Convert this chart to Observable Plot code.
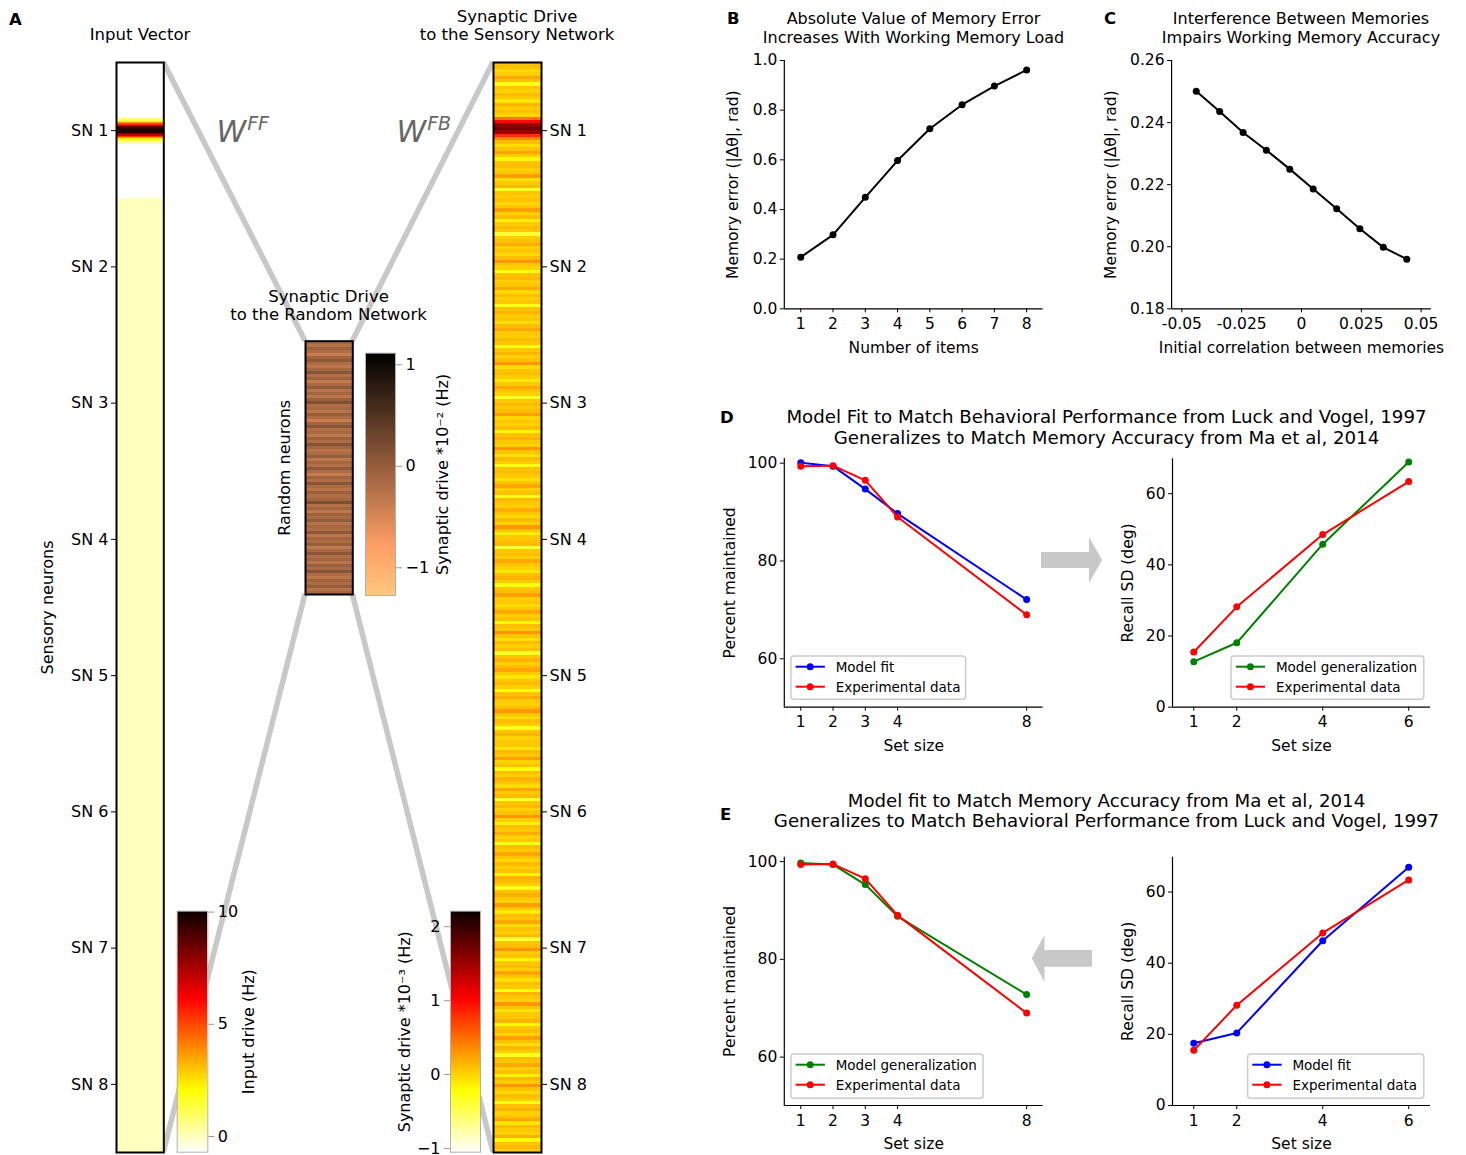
<!DOCTYPE html>
<html><head><meta charset="utf-8">
<script src="https://cdn.jsdelivr.net/npm/d3@7"></script>
<script src="https://cdn.jsdelivr.net/npm/@observablehq/plot@0.6"></script>
<style>
html,body{margin:0;padding:0;background:#fff;}
#fig{position:relative;width:1466px;height:1155px;overflow:hidden;background:#fff;font-family:"DejaVu Sans",sans-serif;}
</style></head><body><div id="fig"></div>
<script>
// ---------------- DATA ----------------
// Panel B
const itemsB = [1, 2, 3, 4, 5, 6, 7, 8];
const errorB = [0.208, 0.298, 0.449, 0.597, 0.725, 0.822, 0.897, 0.962];
// Panel C
const corrC = [-0.044, -0.0342, -0.0244, -0.0147, -0.0049, 0.0049, 0.0147, 0.0244, 0.0342, 0.044];
const errorC = [0.2501, 0.2436, 0.2368, 0.2311, 0.2250, 0.2186, 0.2122, 0.2058, 0.1998, 0.1960];
// Panels D / E (Luck & Vogel percent maintained)
const setSizeLV = [1, 2, 3, 4, 8];
const lvExperimental = [99.4, 99.5, 96.5, 89.0, 69.0];
const lvModelFitD = [100.1, 99.4, 94.7, 89.7, 72.1];
const lvModelGenE = [99.7, 99.4, 95.3, 88.8, 72.8];
// Panels D / E (Ma et al recall SD)
const setSizeMa = [1, 2, 4, 6];
const maExperimental = [15.5, 28.2, 48.5, 63.4];
const maModelGenD = [12.8, 18.1, 45.8, 68.9];
const maModelFitE = [17.5, 20.4, 46.3, 67.0];
// Panel A
const snLabels = ["SN 1", "SN 2", "SN 3", "SN 4", "SN 5", "SN 6", "SN 7", "SN 8"];
const inputBaseline = [-0.7, 0, 0, 0, 0, 0, 0, 0];          // Hz, per sensory network
const inputBumpStart = 0.40;                                  // in sensory-network units
const inputBumpStep = 0.01;
const inputBump = [0.2, 0.6, 1.2, 2.2, 3.6, 5.2, 7.0, 8.4, 9.4, 10, 10, 9.4, 8.4, 7.0, 5.2, 3.6, 2.2, 1.2, 0.6, 0.2];
const sensoryDrive = [ // *1e-3 Hz, 40 rows per sensory network
  [0.05,0.1,-0.05,0.02,0.2,0.08,-0.3,0.06,0.0,0.12,0.04,-0.1,0.15,0.03,0.08,-0.02,0.45,1.0,1.6,1.75,1.5,0.8,0.35,0.1,-0.05,0.06,0.22,0.02,-0.2,0.08,0.1,0.0,0.05,0.25,-0.08,0.04,0.12,-0.35,0.06,0.02],
  [0.08,-0.02,0.05,0.25,0.0,0.1,-0.15,0.04,0.12,0.06,-0.4,0.02,0.08,0.18,0.0,0.06,-0.05,0.1,0.3,0.04,0.0,-0.22,0.08,0.12,0.02,0.06,0.2,-0.04,0.1,0.0,0.05,-0.3,0.08,0.15,0.02,0.06,-0.08,0.1,0.22,0.04],
  [0.02,0.1,0.06,-0.25,0.04,0.14,0.0,0.08,0.28,-0.05,0.06,0.1,0.02,-0.12,0.05,0.2,0.08,0.0,-0.35,0.06,0.12,0.04,0.1,0.25,-0.02,0.06,0.0,0.1,-0.18,0.08,0.15,0.04,0.0,0.3,0.06,-0.06,0.1,0.02,-0.28,0.08],
  [0.1,0.04,-0.08,0.06,0.22,0.0,0.08,-0.3,0.12,0.05,0.02,0.18,0.06,-0.04,0.1,0.0,0.28,0.06,-0.15,0.04,0.08,0.12,-0.42,0.05,0.1,0.02,0.2,0.06,0.0,-0.1,0.08,0.15,0.04,-0.22,0.06,0.1,0.25,0.02,0.05,-0.05],
  [0.06,0.2,0.0,0.08,-0.2,0.1,0.04,0.3,0.06,-0.06,0.12,0.02,0.08,-0.35,0.05,0.15,0.0,0.1,0.22,0.04,-0.1,0.06,0.12,0.02,-0.25,0.08,0.18,0.04,0.0,0.1,0.28,0.06,-0.04,0.1,0.02,-0.3,0.08,0.14,0.0,0.06],
  [0.04,-0.1,0.12,0.06,0.25,0.0,0.08,-0.25,0.1,0.02,0.15,0.06,-0.05,0.2,0.04,0.1,-0.38,0.06,0.12,0.0,0.08,0.3,0.02,-0.15,0.1,0.05,0.18,0.0,0.06,-0.28,0.1,0.04,0.22,0.06,-0.02,0.12,0.0,0.08,-0.2,0.14],
  [0.1,0.02,-0.3,0.08,0.16,0.04,0.0,0.26,0.06,-0.12,0.1,0.04,0.2,-0.05,0.08,0.0,0.12,-0.4,0.06,0.1,0.3,0.02,0.08,-0.18,0.05,0.12,0.0,0.22,0.06,-0.08,0.1,0.04,-0.25,0.15,0.06,0.0,0.28,0.08,-0.1,0.04],
  [0.06,0.14,-0.2,0.04,0.1,0.0,0.25,0.08,-0.06,0.12,0.02,-0.32,0.1,0.06,0.2,0.0,0.08,-0.15,0.12,0.04,0.3,0.06,-0.04,0.1,0.02,-0.28,0.08,0.16,0.0,0.06,0.22,-0.1,0.1,0.04,0.0,0.18,-0.22,0.06,0.12,0.02]
];
const randomDrive = [ // *1e-2 Hz
  -0.15,-0.25,-0.05,-0.2,-0.38,-0.1,0.05,-0.18,-0.3,-0.12,0.1,-0.22,-0.08,-0.35,-0.15,0.02,-0.25,-0.1,-0.3,-0.05,
  0.15,-0.2,-0.12,-0.28,-0.02,-0.18,-0.4,-0.1,0.08,-0.22,-0.15,-0.32,-0.05,-0.2,0.12,-0.1,-0.26,-0.16,0.0,-0.3,
  -0.12,-0.22,0.05,-0.18,-0.36,-0.08,-0.2,0.1,-0.14,-0.28,-0.04,-0.2,-0.12,0.18,-0.24,-0.1,-0.32,-0.06,-0.16,0.02,
  -0.26,-0.12,-0.2,0.06,-0.3,-0.1,-0.18,-0.02,-0.34,-0.14,0.08,-0.22,-0.1,-0.28,-0.04,-0.16,0.12,-0.2,-0.3,-0.08,
  -0.18,0.0,-0.24,-0.12
];
// colour-bar limits
const inputRange = [-0.7, 10.04];
const sensoryRange = [-1.05, 2.21];
const randomRange = [-1.273, 1.114];

// ---------------- HELPERS ----------------
const FONT = '"DejaVu Sans", sans-serif';
const fig = document.getElementById("fig");
function place(node, left, top, z = 1) {
  node.style.position = "absolute"; node.style.left = left + "px"; node.style.top = top + "px";
  node.style.zIndex = z; node.style.margin = "0"; fig.appendChild(node); return node;
}
function hotR([lo, hi]) {
  const s = t => lo + (hi - lo) * t;
  return {type: "linear", domain: [s(0), s(0.254), s(0.635), s(1)], range: ["#ffffff", "#ffff00", "#ff0000", "#0b0000"], interpolate: "rgb", clamp: true};
}
function copperR([lo, hi]) {
  const s = t => lo + (hi - lo) * t;
  return {type: "linear", domain: [s(0), s(0.2), s(1)], range: ["#ffc77f", "#ff9f65", "#000000"], interpolate: "rgb", clamp: true};
}
function ramp([d0, d1], n = 240) {
  return d3.range(n).map(i => ({y0: d0 + (d1 - d0) * i / n, y1: d0 + (d1 - d0) * (i + 1) / n, v: d0 + (d1 - d0) * (i + 0.5) / n}));
}
const minusFmt = d => (d < 0 ? "\u2212" + Math.abs(d) : String(d));
const baseStyle = {fontFamily: FONT, fontSize: "15.5px", color: "#000", background: "transparent", overflow: "visible"};
const stripStyle = {...baseStyle, fontSize: "16px"};
function margins(left, top, width, height, [fx0, fx1, fy0, fy1]) {
  return {width, height, marginLeft: fx0 - left, marginRight: left + width - fx1, marginTop: fy0 - top, marginBottom: top + height - fy1};
}

// ---------------- BACKGROUND (connectors, arrows) ----------------
const IN = {x0: 116, x1: 163.3, y0: 62, y1: 1152};
const RN = {x0: 305, x1: 352.3, y0: 340.7, y1: 594};
const SE = {x0: 493, x1: 541, y0: 62, y1: 1152};
const bg = d3.create("svg").attr("width", 1466).attr("height", 1155);
[[IN.x1, IN.y0, RN.x0, RN.y0], [IN.x1, IN.y1, RN.x0, RN.y1], [RN.x1, RN.y0, SE.x0, SE.y0], [RN.x1, RN.y1, SE.x0, SE.y1]]
  .forEach(([a, b, c, d]) => bg.append("line").attr("x1", a).attr("y1", b).attr("x2", c).attr("y2", d)
    .attr("stroke", "#c8c8c8").attr("stroke-width", 5.5));
bg.append("polygon").attr("fill", "#c8c8c8")
  .attr("points", "1041,552 1089,552 1089,537 1102,560 1089,583 1089,568 1041,568");
bg.append("polygon").attr("fill", "#c8c8c8")
  .attr("points", "1092,950 1044.5,950 1044.5,935 1031.8,958.3 1044.5,982 1044.5,966.7 1092,966.7");
place(bg.node(), 0, 0, 0);

// ---------------- PANEL A: strips ----------------
const snTicks = snLabels.map((_, i) => i + 0.5);
const snFmt = d => snLabels[Math.floor(d)];

const inputRows = inputBaseline.map((v, k) => ({y0: k, y1: k + 1, v}))
  .concat(inputBump.map((v, j) => ({y0: inputBumpStart + j * inputBumpStep, y1: inputBumpStart + (j + 1) * inputBumpStep, v})));
place(Plot.plot({
  ...margins(0, 50, 175, 1110, [IN.x0, IN.x1, IN.y0, IN.y1]),
  style: stripStyle,
  y: {domain: [0, 8], reverse: true},
  color: hotR(inputRange),
  marks: [
    Plot.rect(inputRows, {y1: "y0", y2: "y1", fill: "v", shapeRendering: "crispEdges"}),
    Plot.frame({stroke: "#000", strokeWidth: 2}),
    Plot.axisY({anchor: "left", ticks: snTicks, tickFormat: snFmt, tickSize: 5, tickPadding: 3,
      label: "Sensory neurons", labelAnchor: "center", labelArrow: "none", labelOffset: 75})
  ]
}), 0, 50);

const sensoryRows = sensoryDrive.flatMap((arr, k) => arr.map((v, j) => ({y0: k + j / arr.length, y1: k + (j + 1) / arr.length, v})));
place(Plot.plot({
  ...margins(485, 50, 125, 1110, [SE.x0, SE.x1, SE.y0, SE.y1]),
  style: stripStyle,
  y: {domain: [0, 8], reverse: true},
  color: hotR(sensoryRange),
  marks: [
    Plot.rect(sensoryRows, {y1: "y0", y2: "y1", fill: "v", shapeRendering: "crispEdges"}),
    Plot.frame({stroke: "#000", strokeWidth: 2}),
    Plot.axisY({anchor: "right", ticks: snTicks, tickFormat: snFmt, tickSize: 5, tickPadding: 3, label: null})
  ]
}), 485, 50);

const randomRows = randomDrive.map((v, i) => ({y0: i, y1: i + 1, v}));
place(Plot.plot({
  ...margins(250, 330, 110, 275, [RN.x0, RN.x1, RN.y0, RN.y1]),
  style: stripStyle,
  y: {domain: [0, randomDrive.length], reverse: true},
  color: copperR(randomRange),
  marks: [
    Plot.rect(randomRows, {y1: "y0", y2: "y1", fill: "v", shapeRendering: "crispEdges"}),
    Plot.frame({stroke: "#000", strokeWidth: 2}),
    Plot.axisY({anchor: "left", ticks: [], label: "Random neurons", labelAnchor: "center", labelArrow: "none", labelOffset: 27})
  ]
}), 250, 330);

function colorbar({left, top, width, height, frame, range, color, anchor, ticks, label, labelOffset}) {
  return place(Plot.plot({
    ...margins(left, top, width, height, frame),
    style: stripStyle,
    y: {domain: range},
    color,
    marks: [
      Plot.rect(ramp(range), {y1: "y0", y2: "y1", fill: "v", shapeRendering: "crispEdges"}),
      Plot.frame({stroke: "#b0b0b0", strokeWidth: 1}),
      Plot.axisY({anchor, ticks, tickFormat: minusFmt, tickSize: 6, tickPadding: 4, stroke: "#999",
        label, labelAnchor: "center", labelArrow: "none", labelOffset})
    ]
  }), left, top);
}
colorbar({left: 150, top: 900, width: 130, height: 255, frame: [176.7, 207.3, 910.7, 1151.7],
  range: inputRange, color: hotR(inputRange), anchor: "right", ticks: [0, 5, 10], label: "Input drive (Hz)", labelOffset: 46});
colorbar({left: 340, top: 340, width: 130, height: 265, frame: [365, 395, 352.7, 595],
  range: randomRange, color: copperR(randomRange), anchor: "right", ticks: [-1, 0, 1], label: "Synaptic drive *10\u207B\u00B2 (Hz)", labelOffset: 52});
colorbar({left: 370, top: 900, width: 115, height: 255, frame: [450, 480, 910.7, 1151.7],
  range: sensoryRange, color: hotR(sensoryRange), anchor: "left", ticks: [-1, 0, 1, 2], label: "Synaptic drive *10\u207B\u00B3 (Hz)", labelOffset: 52});

// ---------------- PANELS B–E: line charts ----------------
const pts = (xs, ys) => xs.map((x, i) => ({x, y: ys[i]}));
const intFmt = d => String(d);
function lineChart(o) {
  const marks = [
    Plot.ruleX([o.xDomain[0]], {stroke: "#000", strokeWidth: 1.2}),
    Plot.ruleY([o.yDomain[0]], {stroke: "#000", strokeWidth: 1.2}),
    Plot.axisX({ticks: o.xTicks, tickFormat: o.xFormat || intFmt, tickSize: 4, tickPadding: 5,
      label: o.xLabel, labelAnchor: "center", labelArrow: "none", labelOffset: o.xLabelOffset}),
    Plot.axisY({ticks: o.yTicks, tickFormat: o.yFormat || intFmt, tickSize: 4, tickPadding: 3,
      label: o.yLabel, labelAnchor: "center", labelArrow: "none", labelOffset: o.yLabelOffset})
  ];
  for (const s of o.series) {
    marks.push(Plot.line(s.data, {x: "x", y: "y", stroke: s.color, strokeWidth: 2}));
    marks.push(Plot.dot(s.data, {x: "x", y: "y", fill: s.color, r: 3.5}));
  }
  return place(Plot.plot({
    ...margins(o.left, o.top, o.width, o.height, o.frame),
    style: baseStyle,
    x: {domain: o.xDomain}, y: {domain: o.yDomain},
    marks
  }), o.left, o.top);
}
const BLUE = "#0000ff", RED = "#ff0000", GREEN = "#008000";
lineChart({left: 700, top: 50, width: 360, height: 320, frame: [783.8, 1042.6, 60, 308.3],
  xDomain: [0.49, 8.51], yDomain: [0, 1], xTicks: itemsB, yTicks: [0, 0.2, 0.4, 0.6, 0.8, 1.0], yFormat: d3.format(".1f"),
  xLabel: "Number of items", xLabelOffset: 44, yLabel: "Memory error (|\u0394\u03B8|, rad)", yLabelOffset: 57,
  series: [{data: pts(itemsB, errorB), color: "#000"}]});
lineChart({left: 1090, top: 50, width: 360, height: 320, frame: [1171.1, 1430.9, 60, 308.3],
  xDomain: [-0.0543, 0.0543], yDomain: [0.18, 0.26], xTicks: [-0.05, -0.025, 0, 0.025, 0.05],
  xFormat: d => (d < 0 ? "-" : "") + String(Math.abs(d)), yTicks: [0.18, 0.2, 0.22, 0.24, 0.26], yFormat: d3.format(".2f"),
  xLabel: "Initial correlation between memories", xLabelOffset: 44, yLabel: "Memory error (|\u0394\u03B8|, rad)", yLabelOffset: 67,
  series: [{data: pts(corrC, errorC), color: "#000"}]});
lineChart({left: 700, top: 448, width: 360, height: 320, frame: [783.8, 1042.6, 458, 706.7],
  xDomain: [0.49, 8.51], yDomain: [50.1, 100.96], xTicks: setSizeLV, yTicks: [60, 80, 100],
  xLabel: "Set size", xLabelOffset: 44, yLabel: "Percent maintained", yLabelOffset: 60,
  series: [{data: pts(setSizeLV, lvModelFitD), color: BLUE}, {data: pts(setSizeLV, lvExperimental), color: RED}]});
lineChart({left: 1090, top: 448, width: 360, height: 320, frame: [1172, 1430, 458.3, 706.7],
  xDomain: [0.505, 6.507], yDomain: [0, 69.8], xTicks: setSizeMa, yTicks: [0, 20, 40, 60],
  xLabel: "Set size", xLabelOffset: 44, yLabel: "Recall SD (deg)", yLabelOffset: 51,
  series: [{data: pts(setSizeMa, maModelGenD), color: GREEN}, {data: pts(setSizeMa, maExperimental), color: RED}]});
lineChart({left: 700, top: 846, width: 360, height: 309, frame: [783.8, 1042.6, 856.7, 1105],
  xDomain: [0.49, 8.51], yDomain: [50.1, 100.9], xTicks: setSizeLV, yTicks: [60, 80, 100],
  xLabel: "Set size", xLabelOffset: 43.5, yLabel: "Percent maintained", yLabelOffset: 60,
  series: [{data: pts(setSizeLV, lvModelGenE), color: GREEN}, {data: pts(setSizeLV, lvExperimental), color: RED}]});
lineChart({left: 1090, top: 846, width: 360, height: 309, frame: [1172, 1430, 856.7, 1105],
  xDomain: [0.505, 6.507], yDomain: [0, 69.8], xTicks: setSizeMa, yTicks: [0, 20, 40, 60],
  xLabel: "Set size", xLabelOffset: 43.5, yLabel: "Recall SD (deg)", yLabelOffset: 51,
  series: [{data: pts(setSizeMa, maModelFitE), color: BLUE}, {data: pts(setSizeMa, maExperimental), color: RED}]});

// ---------------- OVERLAY: titles, letters, legends ----------------
const ov = d3.create("svg").attr("width", 1466).attr("height", 1155).style("pointer-events", "none")
  .attr("font-family", FONT);
function txt(x, y, s, {size = 16, anchor = "middle", weight = "normal", fill = "#000"} = {}) {
  return ov.append("text").attr("x", x).attr("y", y).attr("text-anchor", anchor).attr("font-size", size)
    .attr("font-weight", weight).attr("fill", fill).text(s);
}
[["A", 9, 25], ["B", 727, 23.5], ["C", 1104, 23.5], ["D", 720, 422.5], ["E", 720, 820]]
  .forEach(([s, x, y]) => txt(x, y, s, {size: 16.5, anchor: "start", weight: "bold"}));
txt(140, 40, "Input Vector", {size: 16.5});
txt(517, 21.5, "Synaptic Drive", {size: 16.5});
txt(517, 40, "to the Sensory Network", {size: 16.5});
txt(328.5, 301.5, "Synaptic Drive", {size: 16.5});
txt(328.5, 320, "to the Random Network", {size: 16.5});
function wLabel(x, sup) {
  const t = ov.append("text").attr("x", x).attr("y", 141.7).attr("font-size", 30).attr("font-style", "italic").attr("fill", "#666");
  t.append("tspan").text("W");
  t.append("tspan").attr("font-size", 19).attr("dy", -11.8).attr("dx", 1).text(sup);
}
wLabel(216.5, "FF");
wLabel(396.5, "FB");
txt(913.5, 24, "Absolute Value of Memory Error");
txt(913.5, 42.5, "Increases With Working Memory Load");
txt(1301, 24, "Interference Between Memories");
txt(1301, 42.5, "Impairs Working Memory Accuracy");
txt(1106.5, 423, "Model Fit to Match Behavioral Performance from Luck and Vogel, 1997", {size: 18.2});
txt(1106.5, 443.5, "Generalizes to Match Memory Accuracy from Ma et al, 2014", {size: 18.2});
txt(1106.5, 806.5, "Model fit to Match Memory Accuracy from Ma et al, 2014", {size: 18.2});
txt(1106.5, 827, "Generalizes to Match Behavioral Performance from Luck and Vogel, 1997", {size: 18.2});
function legend(x0, x1, y0, y1, entries) {
  ov.append("rect").attr("x", x0).attr("y", y0).attr("width", x1 - x0).attr("height", y1 - y0).attr("rx", 3)
    .attr("fill", "#fff").attr("fill-opacity", 0.85).attr("stroke", "#cccccc").attr("stroke-width", 1.5);
  entries.forEach(([label, color], i) => {
    const y = y0 + 10.7 + i * 20;
    ov.append("line").attr("x1", x0 + 4.7).attr("x2", x0 + 34).attr("y1", y).attr("y2", y).attr("stroke", color).attr("stroke-width", 2);
    ov.append("circle").attr("cx", x0 + 19.3).attr("cy", y).attr("r", 3.5).attr("fill", color);
    txt(x0 + 44.8, y + 5, label, {size: 13.5, anchor: "start"});
  });
}
legend(790.9, 965.6, 656, 699.3, [["Model fit", BLUE], ["Experimental data", RED]]);
legend(1231.1, 1423.8, 656, 699.3, [["Model generalization", GREEN], ["Experimental data", RED]]);
legend(790.9, 983.1, 1054, 1098.3, [["Model generalization", GREEN], ["Experimental data", RED]]);
legend(1247.6, 1423.8, 1054, 1098.3, [["Model fit", BLUE], ["Experimental data", RED]]);
place(ov.node(), 0, 0, 2);
</script></body></html>
